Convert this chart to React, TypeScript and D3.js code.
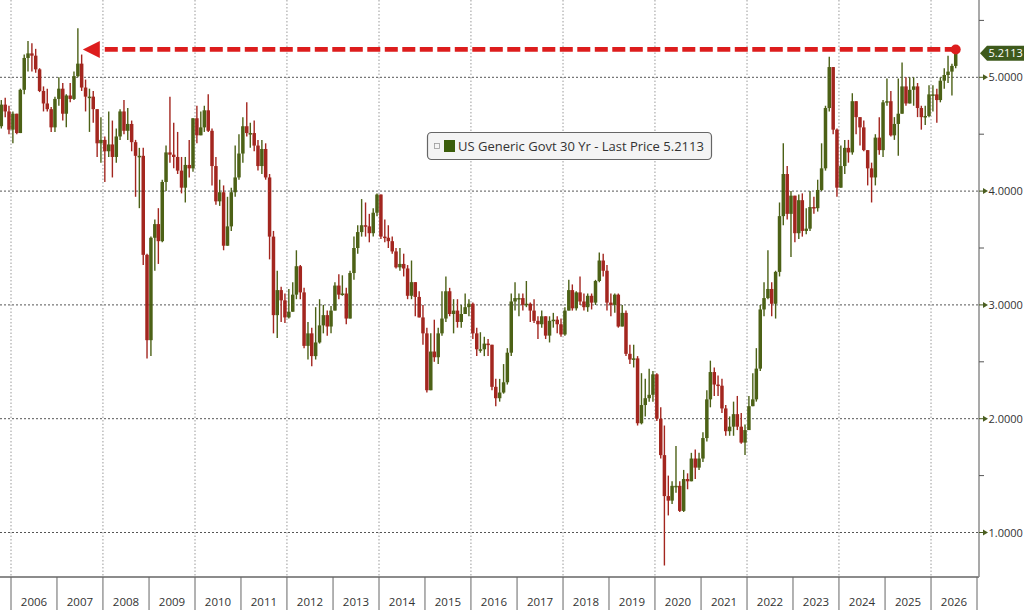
import React, { useEffect, useRef } from "react";
import * as d3 from "d3";

// US Generic Govt 30 Yr, monthly bars, Oct 2005 .. Jul 2026
const firstMonth = new Date(2005, 9, 1);
const firstOpen = 4.57;

const closes = [
  4.76, 4.7, 4.54,
  4.68, 4.51, 4.89, 5.17, 5.21, 5.19, 5.07, 4.88, 4.77, 4.72, 4.56, 4.81,
  4.9, 4.68, 4.84, 4.81, 5.01, 5.12, 4.91, 4.83, 4.83, 4.72, 4.42, 4.45,
  4.35, 4.41, 4.3, 4.48, 4.7, 4.53, 4.59, 4.43, 4.31, 4.31, 3.44, 2.69,
  3.59, 3.71, 3.56, 4.08, 4.34, 4.32, 4.3, 4.18, 4.03, 4.23, 4.2, 4.64,
  4.49, 4.56, 4.71, 4.53, 4.22, 3.91, 3.99, 3.52, 3.69, 3.99, 4.12, 4.33,
  4.57, 4.51, 4.51, 4.4, 4.22, 4.37, 4.12, 3.6, 2.91, 3.13, 3.04, 2.89,
  2.94, 3.09, 3.34, 3.11, 2.64, 2.75, 2.55, 2.67, 2.82, 2.91, 2.81, 2.95,
  3.17, 3.09, 3.1, 2.88, 3.28, 3.5, 3.64, 3.7, 3.69, 3.63, 3.81, 3.97,
  3.6, 3.59, 3.56, 3.47, 3.33, 3.36, 3.32, 3.08, 3.2, 3.07, 2.89, 2.75,
  2.25, 2.59, 2.54, 2.75, 2.88, 3.12, 2.92, 2.95, 2.85, 2.92, 2.98, 3.01,
  2.75, 2.61, 2.61, 2.66, 2.65, 2.28, 2.18, 2.23, 2.32, 2.58, 3.03, 3.06,
  3.06, 3.0, 3.01, 2.95, 2.86, 2.83, 2.9, 2.73, 2.86, 2.87, 2.83, 2.74,
  2.95, 3.13, 2.97, 3.11, 3.03, 2.98, 3.08, 3.02, 3.21, 3.39, 3.3, 3.02,
  3.0, 3.09, 2.81, 2.93, 2.57, 2.52, 2.53, 1.96, 2.12, 2.18, 2.21, 2.39,
  2.0, 1.68, 1.32, 1.28, 1.41, 1.41, 1.19, 1.47, 1.45, 1.65, 1.57, 1.65,
  1.83, 2.17, 2.41, 2.3, 2.29, 2.09, 1.89, 1.93, 2.04, 1.93, 1.79, 1.9,
  2.11, 2.17, 2.44, 2.96, 3.06, 3.14, 3.01, 3.29, 3.78, 4.15, 3.8, 3.96,
  3.63, 3.92, 3.65, 3.67, 3.86, 3.85, 4.01, 4.2, 4.73, 5.09, 4.54, 4.03,
  4.22, 4.38, 4.34, 4.79, 4.65, 4.56, 4.36, 4.2, 4.12, 4.47, 4.36, 4.78,
  4.79, 4.49, 4.59, 4.68, 4.92, 4.77, 4.89, 4.92, 4.73, 4.65, 4.66, 4.85,
  4.85, 4.8, 4.97, 5.02, 5.05, 5.1, 5.2113,
];

const highs = [
  4.8, 4.82, 4.75,
  4.7, 4.66, 4.9, 5.2, 5.32, 5.3, 5.25, 5.08, 4.92, 4.9, 4.74, 4.83,
  5.0, 4.95, 4.85, 4.95, 5.05, 5.43, 5.2, 4.98, 4.9, 4.88, 4.72, 4.65,
  4.48, 4.7, 4.62, 4.55, 4.72, 4.8, 4.73, 4.62, 4.45, 4.38, 4.38, 3.45,
  3.6, 3.75, 3.85, 4.1, 4.4, 4.83, 4.6, 4.52, 4.3, 4.3, 4.45, 4.64,
  4.75, 4.7, 4.75, 4.85, 4.55, 4.3, 4.1, 4.05, 3.95, 4.03, 4.4, 4.5,
  4.65, 4.78, 4.6, 4.62, 4.45, 4.45, 4.42, 4.15, 3.65, 3.3, 3.16, 3.1,
  3.14, 3.2, 3.48, 3.35, 3.15, 2.85, 2.8, 2.98, 3.05, 3.0, 2.95, 2.99,
  3.2, 3.27, 3.26, 3.15, 3.3, 3.6, 3.7, 3.93, 3.9, 3.8, 3.85, 3.98,
  3.97, 3.75, 3.7, 3.6, 3.5, 3.5, 3.45, 3.35, 3.39, 3.2, 3.12, 3.0,
  2.8, 2.75, 2.87, 2.8, 3.12, 3.25, 3.15, 3.05, 3.05, 3.0, 3.1, 3.05,
  3.02, 2.8, 2.76, 2.72, 2.7, 2.65, 2.35, 2.35, 2.48, 2.62, 3.1, 3.2,
  3.1, 3.1, 3.21, 3.02, 3.05, 2.9, 2.95, 2.9, 2.9, 2.93, 2.9, 2.88,
  2.98, 3.22, 3.18, 3.12, 3.25, 3.1, 3.1, 3.1, 3.22, 3.46, 3.45, 3.35,
  3.1, 3.1, 3.1, 3.0, 2.95, 2.65, 2.65, 2.55, 2.4, 2.35, 2.44, 2.42,
  2.4, 2.1, 1.94, 1.5, 1.45, 1.76, 1.45, 1.55, 1.52, 1.7, 1.73, 1.7,
  1.88, 2.25, 2.51, 2.45, 2.38, 2.35, 2.12, 2.02, 2.15, 2.2, 2.05, 1.95,
  2.2, 2.4, 2.62, 3.0, 3.2, 3.48, 3.2, 3.3, 3.9, 4.42, 4.22, 4.0,
  3.95, 3.97, 3.98, 3.85, 4.0, 3.95, 4.1, 4.42, 4.75, 5.18, 5.05, 4.55,
  4.4, 4.45, 4.45, 4.86, 4.75, 4.62, 4.62, 4.35, 4.25, 4.5, 4.65, 4.8,
  4.99, 4.88, 4.65, 4.99, 5.13, 5.0, 5.0, 5.0, 4.95, 4.75, 4.75, 4.93,
  4.93, 4.9, 5.0, 5.08, 5.19, 5.12, 5.22,
];

const lows = [
  4.55, 4.65, 4.5,
  4.42, 4.5, 4.53, 4.85, 5.05, 5.05, 5.04, 4.87, 4.7, 4.7, 4.52, 4.52,
  4.75, 4.62, 4.56, 4.78, 4.8, 5.0, 4.88, 4.7, 4.52, 4.6, 4.3, 4.25,
  4.08, 4.3, 4.12, 4.25, 4.45, 4.5, 4.45, 4.35, 3.95, 3.85, 3.35, 2.53,
  2.55, 3.3, 3.36, 3.55, 4.0, 4.25, 4.2, 4.15, 3.98, 3.9, 4.12, 4.17,
  4.42, 4.5, 4.52, 4.52, 4.05, 3.88, 3.87, 3.48, 3.55, 3.65, 3.95, 4.1,
  4.25, 4.48, 4.38, 4.35, 4.18, 4.15, 4.1, 3.4, 2.75, 2.71, 2.85, 2.84,
  2.88, 2.95, 3.05, 3.05, 2.62, 2.52, 2.46, 2.52, 2.66, 2.75, 2.73, 2.75,
  2.95, 3.05, 3.08, 2.83, 2.88, 3.22, 3.45, 3.6, 3.6, 3.55, 3.6, 3.78,
  3.58, 3.55, 3.5, 3.45, 3.32, 3.3, 3.25, 3.05, 3.05, 2.9, 2.89, 2.65,
  2.23, 2.25, 2.5, 2.48, 2.73, 2.85, 2.9, 2.75, 2.8, 2.8, 2.92, 2.9,
  2.7, 2.55, 2.58, 2.55, 2.55, 2.25, 2.11, 2.15, 2.22, 2.3, 2.55, 2.95,
  2.9, 2.95, 2.98, 2.85, 2.84, 2.7, 2.8, 2.7, 2.67, 2.8, 2.75, 2.72,
  2.73, 2.95, 2.95, 2.95, 3.0, 2.95, 2.94, 2.96, 3.0, 3.2, 3.25, 2.95,
  2.9, 2.93, 2.8, 2.82, 2.55, 2.48, 2.45, 1.94, 1.95, 2.02, 2.15, 2.15,
  1.98, 1.65, 0.71, 1.15, 1.25, 1.35, 1.18, 1.18, 1.38, 1.45, 1.47, 1.55,
  1.62, 1.8, 2.1, 2.2, 2.2, 2.05, 1.85, 1.85, 1.85, 1.9, 1.78, 1.68,
  1.9, 2.12, 2.15, 2.42, 2.9, 3.05, 2.9, 2.88, 3.25, 3.7, 3.75, 3.42,
  3.55, 3.58, 3.6, 3.62, 3.65, 3.8, 3.82, 4.0, 4.18, 4.7, 4.5, 3.95,
  4.05, 4.15, 4.25, 4.32, 4.5, 4.4, 4.35, 4.05, 3.9, 4.05, 4.32, 4.3,
  4.75, 4.48, 4.45, 4.31, 4.7, 4.75, 4.78, 4.75, 4.65, 4.54, 4.58, 4.65,
  4.7, 4.6, 4.78, 4.9, 4.95, 4.84, 5.08,
];

const yearLabels = [
  2006, 2007, 2008, 2009, 2010, 2011, 2012, 2013, 2014, 2015, 2016,
  2017, 2018, 2019, 2020, 2021, 2022, 2023, 2024, 2025, 2026,
];
const gridYears = [2006, 2008, 2010, 2012, 2014, 2016, 2018, 2020, 2022, 2024, 2026];
const yTicks = [1, 2, 3, 4, 5];
const yMinorTicks = [1.5, 2.5, 3.5, 4.5, 5.5];

const lastPrice = 5.2113;
const arrowLevel = 5.245; // hand drawn annotation, sits a touch above the last price
const arrowTip = new Date(2007, 6, 25);
const legendText = "US Generic Govt 30 Yr - Last Price 5.2113";

const WIDTH = 1024;
const HEIGHT = 610;
const PLOT_RIGHT = 979;
const PLOT_BOTTOM = 577;

const UP = "#4c6116";
const DOWN = "#a3261f";

const BondChart: React.FC = () => {
  const ref = useRef<SVGSVGElement | null>(null);

  useEffect(() => {
    const svg = d3.select(ref.current);
    svg.selectAll("*").remove();

    const x = d3
      .scaleTime()
      .domain([new Date(2006, 0, 1), new Date(2027, 0, 1)])
      .range([11, 977]);
    const y = d3.scaleLinear().domain([1, 5]).range([532.5, 77.3]);

    const candles = closes.map((c, i) => {
      const open = i === 0 ? firstOpen : closes[i - 1];
      const date = d3.timeMonth.offset(firstMonth, i);
      return {
        date,
        mid: new Date(date.getFullYear(), date.getMonth(), 16),
        open,
        close: c,
        high: Math.max(highs[i], open, c),
        low: Math.min(lows[i], open, c),
      };
    });

    svg.append("rect").attr("width", WIDTH).attr("height", HEIGHT).attr("fill", "#fff");

    // grid
    svg
      .append("g")
      .selectAll("line")
      .data(gridYears)
      .join("line")
      .attr("x1", (d) => x(new Date(d, 0, 1)))
      .attr("x2", (d) => x(new Date(d, 0, 1)))
      .attr("y1", 0)
      .attr("y2", PLOT_BOTTOM)
      .attr("stroke", "#9a9a9a")
      .attr("stroke-width", 1)
      .attr("stroke-dasharray", "1.5,2");

    svg
      .append("g")
      .selectAll("line")
      .data(yTicks)
      .join("line")
      .attr("x1", 0)
      .attr("x2", PLOT_RIGHT)
      .attr("y1", (d) => y(d))
      .attr("y2", (d) => y(d))
      .attr("stroke", "#555")
      .attr("stroke-width", 1)
      .attr("stroke-dasharray", "2,2");

    // candles
    const bodyW = 3.5;
    const g = svg.append("g");
    g.selectAll("line")
      .data(candles)
      .join("line")
      .attr("x1", (d) => x(d.mid))
      .attr("x2", (d) => x(d.mid))
      .attr("y1", (d) => y(d.high))
      .attr("y2", (d) => y(d.low))
      .attr("stroke", (d) => (d.close >= d.open ? UP : DOWN))
      .attr("stroke-width", 1.4);
    g.selectAll("rect")
      .data(candles)
      .join("rect")
      .attr("x", (d) => x(d.mid) - bodyW / 2)
      .attr("width", bodyW)
      .attr("y", (d) => y(Math.max(d.open, d.close)))
      .attr("height", (d) => Math.max(1.5, Math.abs(y(d.open) - y(d.close))))
      .attr("fill", (d) => (d.close >= d.open ? UP : DOWN));

    // legend
    const lg = svg.append("g");
    lg.append("rect")
      .attr("x", 427.5)
      .attr("y", 132.5)
      .attr("width", 284)
      .attr("height", 27)
      .attr("rx", 4)
      .attr("fill", "#f4f4f4")
      .attr("stroke", "#666")
      .attr("stroke-width", 1.2);
    lg.append("rect")
      .attr("x", 434.5)
      .attr("y", 143.5)
      .attr("width", 5)
      .attr("height", 5)
      .attr("fill", "none")
      .attr("stroke", "#999")
      .attr("stroke-width", 0.8);
    lg.append("rect")
      .attr("x", 444)
      .attr("y", 140)
      .attr("width", 11)
      .attr("height", 12)
      .attr("fill", "#3b5d0a");
    lg.append("text")
      .attr("x", 458)
      .attr("y", 150.5)
      .attr("font-size", 13)
      .attr("fill", "#333")
      .text(legendText);

    // red annotation arrow
    const ay = y(arrowLevel);
    const xt = x(arrowTip);
    const xEnd = x(candles[candles.length - 1].mid);
    svg
      .append("line")
      .attr("x1", xt + 22)
      .attr("x2", xEnd)
      .attr("y1", ay)
      .attr("y2", ay)
      .attr("stroke", "#dd1d1d")
      .attr("stroke-width", 4.8)
      .attr("stroke-dasharray", "13,4.5");
    svg
      .append("path")
      .attr("d", `M${xt},${ay}L${xt + 17},${ay - 8.5}L${xt + 17},${ay + 8.5}Z`)
      .attr("fill", "#dd1d1d");
    svg.append("circle").attr("cx", xEnd).attr("cy", ay).attr("r", 5).attr("fill", "#dd1d1d");

    // x axis band
    svg
      .append("line")
      .attr("x1", 0)
      .attr("x2", PLOT_RIGHT)
      .attr("y1", PLOT_BOTTOM)
      .attr("y2", PLOT_BOTTOM)
      .attr("stroke", "#8c8c8c")
      .attr("stroke-width", 2);
    svg
      .append("g")
      .selectAll("line")
      .data([...yearLabels, 2027])
      .join("line")
      .attr("x1", (d) => x(new Date(d, 0, 1)))
      .attr("x2", (d) => x(new Date(d, 0, 1)))
      .attr("y1", PLOT_BOTTOM)
      .attr("y2", HEIGHT)
      .attr("stroke", "#666")
      .attr("stroke-width", 1);
    svg
      .append("g")
      .selectAll("text")
      .data(yearLabels)
      .join("text")
      .attr("x", (d) => (x(new Date(d, 0, 1)) + x(new Date(d + 1, 0, 1))) / 2)
      .attr("y", 606)
      .attr("text-anchor", "middle")
      .attr("font-size", 11.5)
      .attr("fill", "#333")
      .text((d) => d);

    // right axis
    svg
      .append("line")
      .attr("x1", PLOT_RIGHT)
      .attr("x2", PLOT_RIGHT)
      .attr("y1", 0)
      .attr("y2", PLOT_BOTTOM)
      .attr("stroke", "#8c8c8c")
      .attr("stroke-width", 1.5);
    svg
      .append("g")
      .selectAll("line")
      .data(yMinorTicks)
      .join("line")
      .attr("x1", PLOT_RIGHT)
      .attr("x2", PLOT_RIGHT + 5)
      .attr("y1", (d) => y(d))
      .attr("y2", (d) => y(d))
      .attr("stroke", "#555");
    const ticks = svg.append("g").selectAll("g").data(yTicks).join("g");
    ticks
      .append("line")
      .attr("x1", PLOT_RIGHT)
      .attr("x2", PLOT_RIGHT + 5)
      .attr("y1", (d) => y(d))
      .attr("y2", (d) => y(d))
      .attr("stroke", "#4b5e20");
    ticks
      .append("path")
      .attr("d", (d) => `M${PLOT_RIGHT + 4},${y(d) - 3}L${PLOT_RIGHT + 9},${y(d)}L${PLOT_RIGHT + 4},${y(d) + 3}Z`)
      .attr("fill", "#4b5e20");
    ticks
      .append("text")
      .attr("x", PLOT_RIGHT + 9.5)
      .attr("y", (d) => y(d) + 4)
      .attr("font-size", 11)
      .attr("fill", "#333")
      .text((d) => d.toFixed(4));

    // last price tag
    const ly = y(lastPrice);
    svg
      .append("path")
      .attr("d", `M${PLOT_RIGHT + 1},${ly}L${PLOT_RIGHT + 8},${ly - 7.5}L${WIDTH + 2},${ly - 7.5}L${WIDTH + 2},${ly + 7.5}L${PLOT_RIGHT + 8},${ly + 7.5}Z`)
      .attr("fill", "#3e5a1c");
    svg
      .append("text")
      .attr("x", PLOT_RIGHT + 9.5)
      .attr("y", ly + 4)
      .attr("font-size", 11)
      .attr("fill", "#fff")
      .text(lastPrice.toFixed(4));
  }, []);

  return (
    <div style={styles.container}>
      <style>{"body{margin:0}"}</style>
      <svg ref={ref} width={WIDTH} height={HEIGHT} style={styles.svg} />
    </div>
  );
};

export default function App() {
  return <BondChart />;
}

const styles = {
  container: {
    width: `${WIDTH}px`,
    height: `${HEIGHT}px`,
    overflow: "hidden" as const,
  },
  svg: {
    display: "block",
    fontFamily: "'Open Sans', 'Noto Sans', sans-serif",
  },
};
